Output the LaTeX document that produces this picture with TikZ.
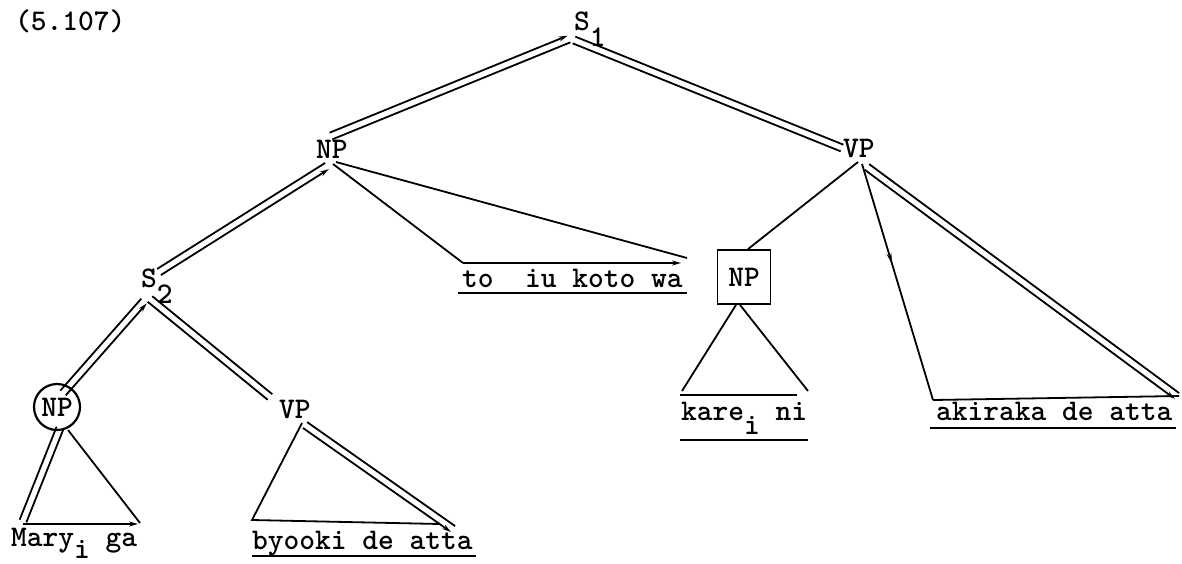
\documentclass[tikz,border=0pt]{standalone}
\usetikzlibrary{calc,arrows.meta,decorations.markings}
\newcommand{\dline}[4]{%
  \draw[ln,#3] ($(#1)!3.6pt!90:(#2)$) -- ($(#2)!3.6pt!-90:(#1)$);
  \draw[ln,#4] ($(#1)!3.6pt!-90:(#2)$) -- ($(#2)!3.6pt!90:(#1)$);}
\begin{document}
\begin{tikzpicture}[x=1pt,y=-1pt,
  tfont/.style={font=\fontsize{30}{32}\selectfont\ttfamily\bfseries},
  lbl/.style={inner sep=0pt, anchor=base west, tfont},
  ln/.style={line width=1.8pt},
  stip/.style={{Stealth[length=9pt,width=5pt]}-},
  etip/.style={-{Stealth[length=9pt,width=5pt]}},
  uline/.style={line width=2.6pt},
  midtip/.style={postaction={decorate,decoration={markings,
      mark=at position #1 with {\arrow{Stealth[length=10pt,width=5pt]}}}}}]
\useasboundingbox (0,0) rectangle (1182,563);

% labels
\node[lbl] (num) at (15,30) {(5.107)};
\node[lbl] (S1) at (574,30) {S\raisebox{-16pt}{1}};
\node[lbl] (NP1) at (316,158) {NP};
\node[lbl] (VP1) at (843,157) {VP};
\node[lbl] (S2) at (141,287) {S\raisebox{-16pt}{2}};
\node[circle, draw, line width=2.2pt, minimum size=46pt, inner sep=0pt, tfont] (NPc) at (57,407) {NP};
\node[lbl] (VP2) at (279,418) {VP};
\node[draw, line width=1.8pt, minimum width=53pt, minimum height=54pt, inner sep=0pt, tfont] (NPb) at (744,277) {NP};
\node[lbl] (to) at (462,287) {to\ \ iu koto wa};
\node[lbl] (kare) at (681,420) {kare\raisebox{-14pt}{i} ni};
\node[lbl] (aki) at (936,420) {akiraka de atta};
\node[lbl] (mary) at (11,546) {Mary\raisebox{-12pt}{i} ga};
\node[lbl] (byo) at (252,549) {byooki de atta};

% end points of connectors
\coordinate (s1a) at (569,39);   \coordinate (np1a) at (331,136);
\coordinate (s1b) at (574,40);   \coordinate (vp1a) at (842,148);
\coordinate (np1b) at (327,166); \coordinate (s2a) at (159,272);
\coordinate (s2b) at (144,301);  \coordinate (npcA) at (63,393);
\coordinate (s2c) at (150,299);  \coordinate (vp2a) at (270,397);
\coordinate (npcB) at (60,428);  \coordinate (maryL) at (23,521);
\coordinate (npcC) at (68,430);  \coordinate (maryR) at (140,523);
\coordinate (maryB) at (23,524); \coordinate (maryE) at (138,524);
\coordinate (vp2b) at (302,423); \coordinate (byoL) at (252,520);
\coordinate (vp2c) at (305,425); \coordinate (byoR) at (453,529);
\coordinate (byoE) at (440,524);
\coordinate (np1c) at (333,164); \coordinate (toL) at (463,263);
\coordinate (np1d) at (336,162); \coordinate (toR) at (687,258);
\coordinate (toE) at (681,263);
\coordinate (vp1b) at (858,162);
\coordinate (kareL) at (682,391); \coordinate (kareR) at (808,391);
\coordinate (kareE) at (797,395); \coordinate (kareB) at (680,395);
\coordinate (vp1c) at (862,164); \coordinate (akiL) at (933,400);
\coordinate (vp1d) at (867,167); \coordinate (akiR) at (1177,396);
\coordinate (akiE) at (1179,396);

% double connectors
\dline{s1a}{np1a}{}{stip}
\dline{s1b}{vp1a}{}{}
\dline{np1b}{s2a}{stip}{}
\dline{s2b}{npcA}{stip}{}
\dline{s2c}{vp2a}{}{}
\dline{npcB}{maryL}{}{}
\dline{vp2c}{byoR}{}{etip}
\dline{vp1d}{akiR}{}{etip}

% single connectors
\draw[ln] (npcC) -- (maryR);
\draw[ln,etip] (maryB) -- (maryE);
\draw[ln] (vp2b) -- (byoL) -- (byoE);
\draw[ln] (np1c) -- (toL);
\draw[ln,etip] (toL) -- (toE);
\draw[ln] (np1d) -- (toR);
\draw[ln] (vp1b) -- ([xshift=4pt]NPb.north);
\draw[ln] ([xshift=-8pt]NPb.south) -- (kareL);
\draw[ln] ([xshift=-4pt]NPb.south) -- (kareR);
\draw[ln] (kareB) -- (kareE);
\draw[ln,midtip=0.42] (vp1c) -- (akiL);
\draw[ln] (akiL) -- (akiE);

% underlines
\draw[uline] ([shift={(-4pt,-6pt)}]to.base west) -- ([shift={(4pt,-6pt)}]to.base east);
\draw[uline] ([shift={(-1pt,-20pt)}]kare.base west) -- ([shift={(1pt,-20pt)}]kare.base east);
\draw[uline] ([shift={(-6pt,-8pt)}]aki.base west) -- ([shift={(3pt,-8pt)}]aki.base east);
\draw[uline] ([shift={(0pt,-7pt)}]byo.base west) -- ([shift={(3pt,-7pt)}]byo.base east);
\end{tikzpicture}
\end{document}
